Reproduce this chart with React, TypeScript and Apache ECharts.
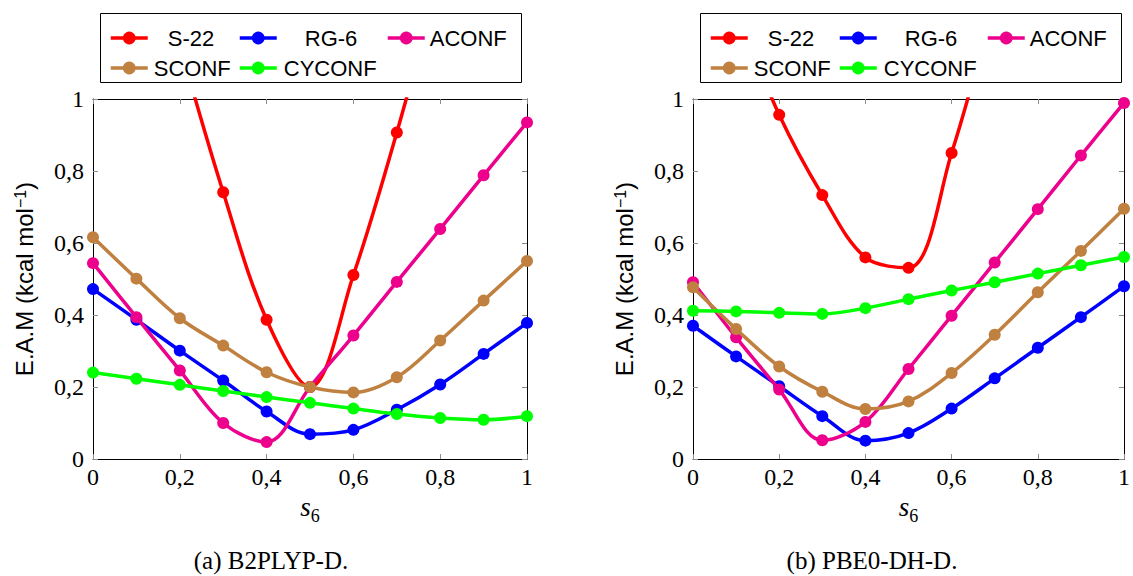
import React, { useEffect, useRef } from "react";
import * as echarts from "echarts";

const xs = [0, 0.1, 0.2, 0.3, 0.4, 0.5, 0.6, 0.7, 0.8, 0.9, 1.0];
const seriesNames = ["S-22", "RG-6", "ACONF", "SCONF", "CYCONF"];
const seriesColors = ["#ff0000", "#0000ff", "#ec008c", "#bf8040", "#00ff00"];

// (a) B2PLYP-D.
const b2S22 = [null, null, 1.15, 0.741, 0.387, 0.2, 0.511, 0.907, 1.35, null, null];
const b2RG6 = [0.472, 0.387, 0.301, 0.218, 0.132, 0.069, 0.081, 0.137, 0.207, 0.292, 0.378];
const b2ACONF = [0.544, 0.394, 0.246, 0.1, 0.047, 0.2, 0.343, 0.492, 0.639, 0.788, 0.935];
const b2SCONF = [0.616, 0.501, 0.391, 0.315, 0.241, 0.2, 0.185, 0.227, 0.329, 0.44, 0.55];
const b2CYCONF = [0.24, 0.223, 0.206, 0.189, 0.172, 0.156, 0.14, 0.125, 0.114, 0.109, 0.119];

// (b) PBE0-DH-D.
const pbS22 = [null, 1.25, 0.956, 0.733, 0.56, 0.531, 0.85, 1.28, null, null, null];
const pbRG6 = [0.37, 0.285, 0.202, 0.119, 0.051, 0.072, 0.14, 0.224, 0.309, 0.394, 0.48];
const pbACONF = [0.491, 0.338, 0.193, 0.052, 0.103, 0.25, 0.398, 0.546, 0.694, 0.843, 0.989];
const pbSCONF = [0.477, 0.361, 0.257, 0.187, 0.139, 0.16, 0.239, 0.345, 0.463, 0.578, 0.695];
const pbCYCONF = [0.412, 0.41, 0.406, 0.403, 0.419, 0.444, 0.468, 0.491, 0.515, 0.538, 0.561];

const panelA = [b2S22, b2RG6, b2ACONF, b2SCONF, b2CYCONF];
const panelB = [pbS22, pbRG6, pbACONF, pbSCONF, pbCYCONF];

const captions = ["(a) B2PLYP-D.", "(b) PBE0-DH-D."];

const SERIF = "Liberation Serif";
const SANS = "Liberation Sans";

const fmt = (v: number) => {
  if (Math.abs(v) < 1e-9) return "0";
  if (Math.abs(v - 1) < 1e-9) return "1";
  return v.toFixed(1).replace(".", ",");
};

function pairs(vals: (number | null)[]) {
  const out: number[][] = [];
  vals.forEach((v, i) => {
    if (v !== null) out.push([xs[i], v]);
  });
  return out;
}

export default function App() {
  const ref = useRef<HTMLDivElement>(null);
  useEffect(() => {
    if (!ref.current) return;
    const chart = echarts.init(ref.current, null, { renderer: "svg" });

    const gridLefts = [93, 693];
    const grids = gridLefts.map((l) => ({ left: l, top: 99, width: 434, height: 360, show: false }));

    const xAxes: any[] = [];
    const yAxes: any[] = [];
    [0, 1].forEach((g) => {
      const common = {
        type: "value",
        gridIndex: g,
        min: 0,
        max: 1,
        interval: 0.2,
        splitLine: { show: false },
        axisLine: { show: true, onZero: false, lineStyle: { color: "#000", width: 1 } },
        axisTick: { show: true, inside: true, length: 5, lineStyle: { color: "#8c8c8c", width: 1 } },
      };
      xAxes.push({
        ...common,
        position: "bottom",
        axisLabel: {
          formatter: fmt,
          fontFamily: SERIF,
          fontSize: 24,
          color: "#000",
          margin: 6,
          showMinLabel: true,
          showMaxLabel: true,
        },
        name: "{i|s}{sub|6}",
        nameLocation: "middle",
        nameGap: 30,
        nameTextStyle: {
          fontFamily: SERIF,
          rich: {
            i: { fontFamily: SERIF, fontStyle: "italic", fontSize: 27, color: "#000" },
            sub: { fontFamily: SERIF, fontSize: 18, color: "#000", verticalAlign: "bottom", padding: [0, 0, -4, 0] },
          },
        },
      });
      xAxes.push({ ...common, position: "top", axisLabel: { show: false } });
      yAxes.push({
        ...common,
        position: "left",
        axisLabel: {
          formatter: fmt,
          fontFamily: SERIF,
          fontSize: 24,
          color: "#000",
          margin: 9,
          showMinLabel: true,
          showMaxLabel: true,
        },
        name: "{a|E.A.M (kcal mol}{sup|−1}{a|)}",
        nameLocation: "middle",
        nameGap: 57,
        nameTextStyle: {
          fontFamily: SANS,
          rich: {
            a: { fontFamily: SANS, fontSize: 24, color: "#000" },
            sup: { fontFamily: SANS, fontSize: 16, color: "#000", verticalAlign: "top", padding: [0, 0, 8, 0] },
          },
        },
      });
      yAxes.push({ ...common, position: "right", axisLabel: { show: false } });
    });

    const series: any[] = [];
    [panelA, panelB].forEach((panel, g) => {
      panel.forEach((vals, k) => {
        series.push({
          type: "line",
          name: seriesNames[k],
          xAxisIndex: g * 2,
          yAxisIndex: g * 2,
          data: pairs(vals),
          smooth: 0.35,
          symbol: "circle",
          symbolSize: 12,
          clip: true,
          lineStyle: { color: seriesColors[k], width: 3.5 },
          itemStyle: { color: seriesColors[k] },
          z: 2 + k,
        });
      });
    });

    const legendIconLeft = [109, 238, 386, 109, 238];
    const legendRowTop = [27, 27, 27, 57, 57];
    const legendTextPad = [15, 23, 0, 1, 2];
    const legends: any[] = [];
    [0, 600].forEach((off) => {
      seriesNames.forEach((nm, k) => {
        legends.push({
          data: [nm],
          left: legendIconLeft[k] + off,
          top: legendRowTop[k],
          padding: 0,
          itemWidth: 37,
          itemHeight: 16,
          selectedMode: false,
          lineStyle: { width: 3.5 },
          textStyle: { fontFamily: SANS, fontSize: 22, color: "#000", padding: [0, 0, 0, legendTextPad[k]] },
        });
      });
    });

    const graphics: any[] = [];
    [0, 600].forEach((off) => {
      graphics.push({
        type: "rect",
        shape: { x: 100.5 + off, y: 13.5, width: 421, height: 69 },
        style: { fill: "none", stroke: "#000", lineWidth: 1 },
        silent: true,
      });
    });
    const capX = [271, 872];
    captions.forEach((c, i) => {
      graphics.push({
        type: "text",
        x: capX[i],
        y: 560,
        style: {
          text: c,
          fontFamily: SERIF,
          fontSize: 25,
          fill: "#000",
          align: "center",
          verticalAlign: "middle",
        },
      });
    });

    chart.setOption({
      animation: false,
      backgroundColor: "#fff",
      textStyle: { fontFamily: SERIF },
      grid: grids,
      xAxis: xAxes,
      yAxis: yAxes,
      legend: legends,
      series,
      graphic: graphics,
    });
    return () => chart.dispose();
  }, []);
  return (
    <div
      ref={ref}
      style={{ position: "absolute", left: 0, top: 0, width: 1133, height: 576 }}
    />
  );
}
